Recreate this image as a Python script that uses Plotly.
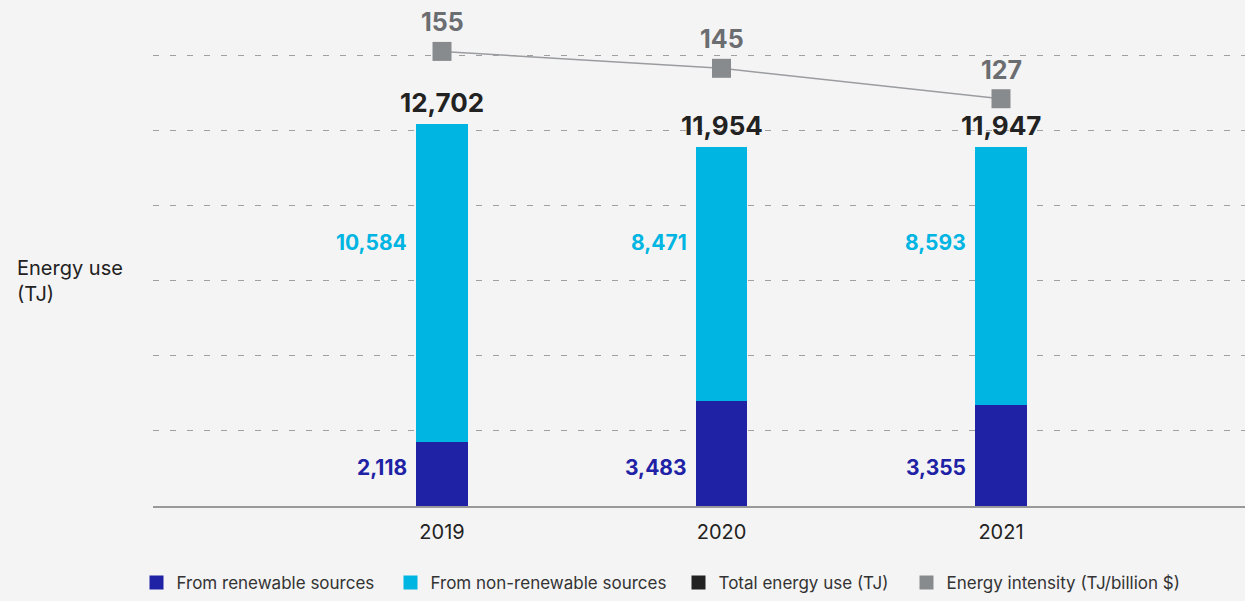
import plotly.graph_objects as go

years = ["2019", "2020", "2021"]
renewable = [2118, 3483, 3355]
non_renewable = [10584, 8471, 8593]
total = [12702, 11954, 11947]
intensity = [155, 145, 127]
legend_names = ["From renewable sources", "From non-renewable sources",
                "Total energy use (TJ)", "Energy intensity (TJ/billion $)"]
grid_vals = [2500, 5000, 7500, 10000, 12500, 15000]

C_REN = "#1f22a5"
C_NON = "#00b5e2"
C_TOT = "#222222"
C_INT = "#888b8e"
C_INT_TXT = "#6b6d71"
BG = "#f4f4f4"
FONT = "Inter"

PL, PW = 153, 1092  # plot area left / width in px

fig = go.Figure()
fig.add_trace(go.Bar(x=years, y=renewable, marker=dict(color=C_REN, line=dict(width=0)),
                     width=0.186, showlegend=False))
fig.add_trace(go.Bar(x=years, y=non_renewable, marker=dict(color=C_NON, line=dict(width=0)),
                     width=0.186, showlegend=False))
fig.add_trace(go.Scatter(x=years, y=intensity, yaxis="y2", mode="lines+markers",
                         line=dict(color="#9a9c9f", width=1.5),
                         marker=dict(symbol="square", size=19, color=C_INT),
                         showlegend=False))

# legend-only entries, each in its own legend so they can be placed individually
legend_px = [150, 404, 692, 920]
legend_ids = ["legend", "legend2", "legend3", "legend4"]
for name, col, lid in zip(legend_names, [C_REN, C_NON, C_TOT, C_INT], legend_ids):
    fig.add_trace(go.Scatter(x=[None], y=[None], mode="markers", name=name, legend=lid,
                             marker=dict(symbol="square", size=14, color=col)))

ann = []
for i, y in enumerate(years):
    ann.append(dict(x=i, y=total[i], xref="x", yref="y", text=f"{total[i]:,}",
                    showarrow=False, yanchor="bottom", yshift=4,
                    font=dict(family=FONT, size=26, color=C_TOT, weight="bold")))
    ann.append(dict(x=i, y=intensity[i], xref="x", yref="y2", text=f"{intensity[i]}",
                    showarrow=False, yanchor="bottom", yshift=12,
                    font=dict(family=FONT, size=25, color=C_INT_TXT, weight="bold")))
    ann.append(dict(x=i, y=0.531, xref="x", yref="paper", text=f"{non_renewable[i]:,}",
                    showarrow=False, xanchor="right", xshift=-33, yanchor="middle",
                    font=dict(family=FONT, size=21, color=C_NON, weight="bold")))
    ann.append(dict(x=i, y=0.078, xref="x", yref="paper", text=f"{renewable[i]:,}",
                    showarrow=False, xanchor="right", xshift=-33, yanchor="middle",
                    font=dict(family=FONT, size=21, color=C_REN, weight="bold")))
ann.append(dict(x=(15 - PL) / PW, y=0.453, xref="paper", yref="paper", text="Energy use<br>(TJ)",
                showarrow=False, xanchor="left", yanchor="middle", align="left",
                font=dict(family=FONT, size=20, color="#222222")))

legend_common = dict(orientation="h", y=-0.156, xanchor="left", yanchor="middle",
                     font=dict(family=FONT, size=17, color="#333333"),
                     bgcolor="rgba(0,0,0,0)", itemwidth=30)

layout_legends = {}
for lid, px in zip(legend_ids, legend_px):
    layout_legends[lid] = dict(legend_common, x=(px - 13.5 - PL) / PW)

fig.update_layout(
    width=1245, height=601,
    paper_bgcolor=BG, plot_bgcolor=BG,
    margin=dict(l=PL, r=0, t=10, b=86),
    barmode="stack",
    font=dict(family=FONT, color="#222222"),
    xaxis=dict(type="category", range=[-1.034, 2.873], showgrid=False,
               showline=True, linecolor="#999999", linewidth=2,
               ticks="outside", ticklen=7, tickcolor="rgba(0,0,0,0)",
               tickfont=dict(family=FONT, size=20, color="#222222"), fixedrange=True),
    yaxis=dict(range=[0, 16500], tickvals=grid_vals, showticklabels=False,
               showgrid=True, gridcolor="#a0a0a0", gridwidth=1.3, griddash="6px,11px",
               zeroline=False),
    yaxis2=dict(range=[-114, 179.5], overlaying="y", side="right", showgrid=False,
                showticklabels=False, zeroline=False),
    annotations=ann,
    **layout_legends,
)

fig.write_html("out.html", config={"displayModeBar": False},
               post_script="document.body.style.margin='0';document.body.style.background='%s';" % BG)
